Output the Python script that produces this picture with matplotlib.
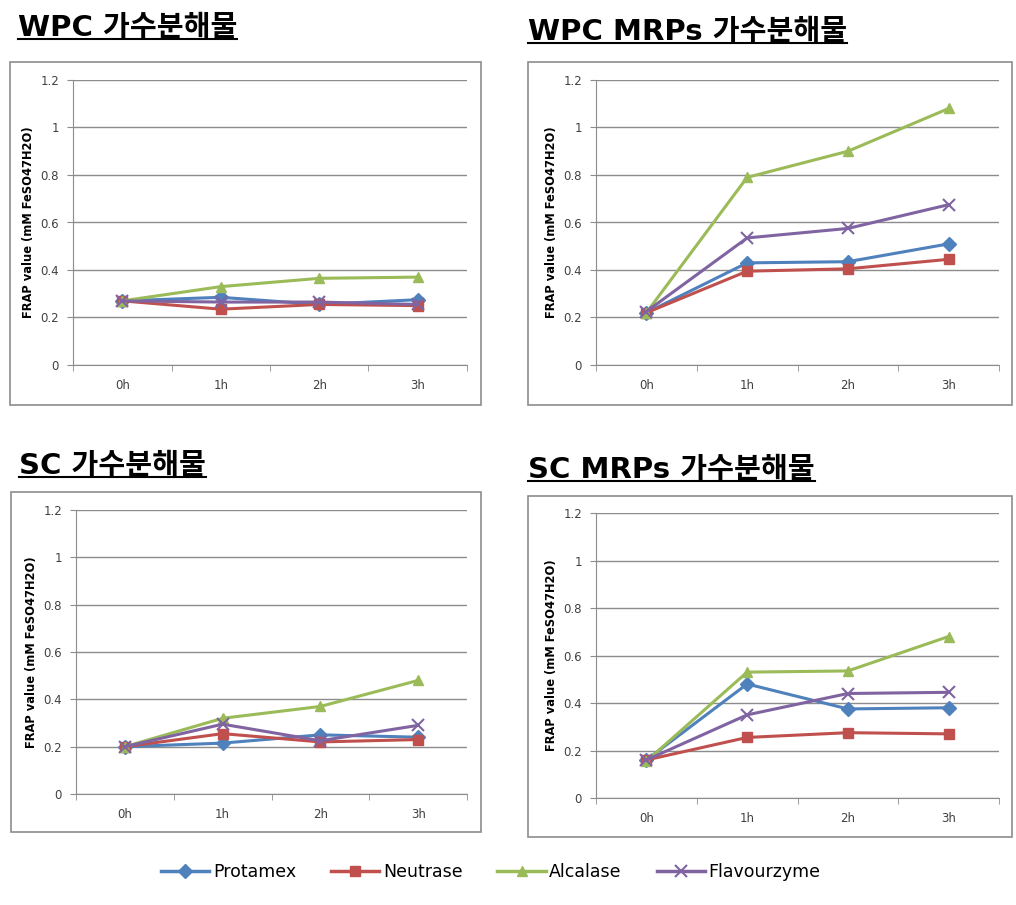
import numpy as np
import matplotlib
matplotlib.use('Agg')
from matplotlib import pyplot as plt
from matplotlib.lines import Line2D
from matplotlib.patches import Rectangle

plt.rcParams['font.family'] = ['DejaVu Sans']

hours = ['0h', '1h', '2h', '3h']
enzymes = ['Protamex', 'Neutrase', 'Alcalase', 'Flavourzyme']
colors = ['#4F81BD', '#C0504D', '#9BBB59', '#8064A2']
markers = ['D', 's', '^', 'x']

titles = ['WPC 가수분해물', 'WPC MRPs 가수분해물', 'SC 가수분해물', 'SC MRPs 가수분해물']

wpc = [
    [0.27, 0.285, 0.255, 0.275],
    [0.27, 0.235, 0.255, 0.25],
    [0.27, 0.33, 0.365, 0.37],
    [0.27, 0.265, 0.265, 0.255],
]
wpc_mrps = [
    [0.22, 0.43, 0.435, 0.51],
    [0.22, 0.395, 0.405, 0.445],
    [0.22, 0.79, 0.90, 1.08],
    [0.225, 0.535, 0.575, 0.675],
]
sc = [
    [0.20, 0.215, 0.25, 0.24],
    [0.20, 0.255, 0.22, 0.23],
    [0.20, 0.32, 0.37, 0.48],
    [0.20, 0.295, 0.225, 0.29],
]
sc_mrps = [
    [0.16, 0.48, 0.375, 0.38],
    [0.16, 0.255, 0.275, 0.27],
    [0.155, 0.53, 0.535, 0.68],
    [0.16, 0.35, 0.44, 0.445],
]
panels = [wpc, wpc_mrps, sc, sc_mrps]

W, H = 1016, 905
fig = plt.figure(figsize=(W / 100, H / 100), dpi=100)

def fx(px):
    return px / W

def fy(py):
    return 1 - py / H

# pixel layouts: (box l, t, r, b), (axes l, t, r, b), (title x, baseline y)
layout = [
    ((10, 62, 481, 405), (73, 80, 467, 365), (18, 36)),
    ((528, 62, 1012, 405), (596, 80, 999, 365), (528, 40)),
    ((11, 492, 481, 832), (76, 510, 467, 794), (19, 474)),
    ((528, 496, 1012, 837), (596, 513, 999, 798), (528, 478)),
]

title_texts = []
for data, title, (box, axp, tpos) in zip(panels, titles, layout):
    bl, bt, br, bb = box
    fig.add_artist(Rectangle((fx(bl), fy(bb)), fx(br - bl), (bb - bt) / H,
                             transform=fig.transFigure, fill=False,
                             edgecolor='#8c8c8c', linewidth=1.2))
    al, at, ar, ab = axp
    ax = fig.add_axes([fx(al), fy(ab), fx(ar - al), (ab - at) / H])
    x = np.arange(len(hours)) + 0.5
    for vals, c, m in zip(data, colors, markers):
        ax.plot(x, vals, color=c, marker=m, linewidth=2.2,
                markersize=8 if m == 'x' else 7, markeredgewidth=1.5 if m == 'x' else 1,
                markeredgecolor=c, markerfacecolor=c)
    ax.set_xlim(0, 4)
    ax.set_ylim(0, 1.2)
    ax.set_yticks([0, 0.2, 0.4, 0.6, 0.8, 1.0, 1.2])
    ax.set_yticklabels(['0', '0.2', '0.4', '0.6', '0.8', '1', '1.2'])
    ax.set_xticks(x)
    ax.set_xticklabels(hours)
    ax.set_xticks([0, 1, 2, 3, 4], minor=True)
    ax.tick_params(axis='x', which='major', length=0, pad=10, labelsize=8.5, labelcolor='#404040')
    ax.tick_params(axis='x', which='minor', length=4, direction='out', color='#8c8c8c')
    ax.tick_params(axis='y', length=4, direction='out', color='#8c8c8c', labelsize=8.5,
                   labelcolor='#404040', pad=6)
    ax.grid(axis='y', color='#8c8c8c', linewidth=1)
    ax.set_axisbelow(True)
    for s in ['top', 'right']:
        ax.spines[s].set_visible(False)
    for s in ['left', 'bottom']:
        ax.spines[s].set_color('#8c8c8c')
    ax.set_ylabel('FRAP value (mM FeSO47H2O)', fontsize=8.3, fontweight='bold')
    ax.yaxis.set_label_coords(-38 / (ar - al), 0.5)

    tx, ty = tpos
    t = fig.text(fx(tx), fy(ty), title, fontsize=21, fontweight='heavy',
                 family=['DejaVu Sans', 'Noto Sans CJK KR'], va='baseline', ha='left')
    title_texts.append((t, ty))

fig.canvas.draw()
renderer = fig.canvas.get_renderer()
for t, ty in title_texts:
    bb = t.get_window_extent(renderer)
    fig.add_artist(Line2D([bb.x0 / W, bb.x1 / W], [fy(ty + 3), fy(ty + 3)],
                          transform=fig.transFigure, color='black', linewidth=1.5))

handles = [Line2D([], [], color=c, marker=m, linewidth=2.5, markersize=8 if m == 'x' else 7,
                  markeredgewidth=1.5 if m == 'x' else 1)
           for c, m in zip(colors, markers)]
fig.legend(handles, enzymes, loc='center', bbox_to_anchor=(0.483, fy(872)), ncol=4,
           frameon=False, fontsize=12.5, handlelength=2.8, handletextpad=0.2, columnspacing=2.0)

fig.savefig('out.png', dpi=100)
